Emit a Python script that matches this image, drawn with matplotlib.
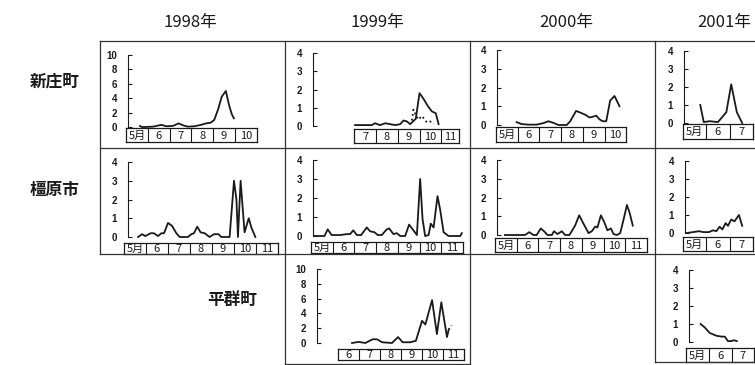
import matplotlib
matplotlib.use("Agg")
import matplotlib.pyplot as plt
from matplotlib.lines import Line2D

plt.rcParams['font.family'] = ['Noto Sans CJK JP', 'DejaVu Sans']

W, H = 755, 365
fig = plt.figure(figsize=(W / 100, H / 100), dpi=100)

years = ['1998年', '1999年', '2000年', '2001年']
towns = ['新庄町', '橿原市', '平群町']

# x = date expressed as month + fraction of month, y = catch per trap
shinjo_1998_x = [5.64, 5.72, 5.86, 6.24, 6.62, 6.85, 7.15, 7.41, 7.65, 7.83, 8.14,
                 8.44, 8.67, 8.89, 9.05, 9.23, 9.39, 9.58, 9.73, 9.85, 9.95]
shinjo_1998_y = [0.15, 0.0, 0.0, 0.05, 0.3, 0.1, 0.15, 0.5, 0.2, 0.05, 0.1,
                 0.3, 0.5, 0.6, 1.0, 2.5, 4.2, 5.0, 3.0, 1.8, 1.2]

shinjo_1999_x = [7.03, 7.49, 7.8, 7.95, 8.18, 8.42, 8.65, 8.88, 9.11, 9.26, 9.42,
                 9.57, 9.83, 10.0, 10.18, 10.38, 10.57, 10.75, 10.88]
shinjo_1999_y = [0.05, 0.05, 0.05, 0.15, 0.05, 0.15, 0.1, 0.05, 0.1, 0.3, 0.25,
                 0.1, 0.4, 1.8, 1.5, 1.1, 0.8, 0.7, 0.1]
shinjo_1999_sub_x = [9.65, 9.72, 9.83, 9.95, 10.11, 10.34, 10.49, 10.65]
shinjo_1999_sub_y = [0.3, 0.9, 0.6, 0.35, 0.55, 0.2, 0.25, 0.1]

shinjo_2000_x = [5.95, 6.18, 6.49, 6.88, 7.18, 7.42, 7.68, 7.88, 8.26, 8.42, 8.69,
                 8.91, 9.11, 9.31, 9.49, 9.62, 9.77, 9.92, 10.08, 10.26, 10.46, 10.69]
shinjo_2000_y = [0.15, 0.05, 0.02, 0.02, 0.1, 0.2, 0.1, 0.0, 0.0, 0.2, 0.75,
                 0.65, 0.55, 0.4, 0.45, 0.5, 0.3, 0.2, 0.2, 1.3, 1.55, 1.0]

shinjo_2001_x = [5.74, 5.89, 6.14, 6.5, 6.86, 7.07, 7.31, 7.54]
shinjo_2001_y = [1.0, 0.05, 0.1, 0.05, 0.6, 2.15, 0.6, 0.0]

kashi_1998_x = [5.64, 5.82, 5.97, 6.21, 6.36, 6.55, 6.7, 6.82, 7.0, 7.18, 7.38,
                7.53, 7.91, 8.06, 8.18, 8.33, 8.48, 8.67, 8.89, 9.09, 9.3, 9.42,
                9.8, 10.0, 10.11, 10.18, 10.3, 10.48, 10.67, 10.79, 10.97]
kashi_1998_y = [0.0, 0.15, 0.05, 0.2, 0.2, 0.05, 0.2, 0.2, 0.75, 0.6, 0.2,
                0.0, 0.0, 0.15, 0.2, 0.55, 0.25, 0.2, 0.0, 0.15, 0.15, 0.0,
                0.0, 3.0, 2.0, 0.0, 3.0, 0.25, 1.0, 0.5, 0.0]

kashi_1999_x = [5.15, 5.62, 5.77, 5.95, 6.34, 6.65, 6.8, 6.95, 7.11, 7.31, 7.57,
                7.72, 7.92, 8.08, 8.26, 8.49, 8.6, 8.8, 8.95, 9.11, 9.34, 9.52,
                9.72, 9.88, 10.03, 10.14, 10.26, 10.42, 10.52, 10.65, 10.83, 10.95,
                11.11, 11.34, 11.88, 11.95]
kashi_1999_y = [0.0, 0.0, 0.35, 0.05, 0.05, 0.1, 0.1, 0.3, 0.05, 0.05, 0.45,
                0.25, 0.2, 0.05, 0.05, 0.35, 0.4, 0.1, 0.15, 0.0, 0.0, 0.6,
                0.3, 0.05, 3.0, 0.9, 0.0, 0.05, 0.65, 0.45, 2.1, 1.4,
                0.2, 0.0, 0.0, 0.15]

kashi_2000_x = [5.46, 6.38, 6.58, 6.77, 6.92, 7.11, 7.26, 7.42, 7.62, 7.72, 7.88,
                8.08, 8.23, 8.43, 8.69, 8.88, 9.08, 9.31, 9.46, 9.62, 9.72, 9.88,
                10.03, 10.18, 10.34, 10.46, 10.62, 10.77, 10.92, 11.08, 11.2, 11.35]
kashi_2000_y = [0.0, 0.0, 0.15, 0.0, 0.0, 0.35, 0.2, 0.0, 0.0, 0.2, 0.05,
                0.2, 0.0, 0.0, 0.5, 1.05, 0.6, 0.1, 0.2, 0.45, 0.4, 1.05,
                0.7, 0.25, 0.35, 0.05, 0.0, 0.1, 0.8, 1.6, 1.2, 0.5]

kashi_2001_x = [5.17, 5.43, 5.69, 5.86, 6.11, 6.29, 6.43, 6.57, 6.69, 6.83, 6.93,
                7.07, 7.21, 7.4, 7.54]
kashi_2001_y = [0.0, 0.05, 0.1, 0.05, 0.05, 0.15, 0.1, 0.35, 0.2, 0.55, 0.4,
                0.75, 0.65, 1.0, 0.4]

heguri_1999_x = [6.67, 6.98, 7.3, 7.65, 7.86, 8.1, 8.57, 8.86, 9.08, 9.44, 9.71,
                 10.0, 10.16, 10.48, 10.71, 10.92, 11.19, 11.27]
heguri_1999_y = [0.0, 0.15, 0.0, 0.5, 0.5, 0.1, 0.0, 0.8, 0.1, 0.1, 0.3,
                 3.0, 2.5, 5.8, 1.2, 5.5, 0.8, 1.8]
heguri_1999_sub_x = [11.27, 11.4]
heguri_1999_sub_y = [1.8, 2.4]

heguri_2001_x = [5.64, 5.83, 6.04, 6.33, 6.55, 6.7, 6.84, 6.99, 7.09, 7.23]
heguri_2001_y = [1.0, 0.8, 0.5, 0.35, 0.3, 0.3, 0.05, 0.05, 0.1, 0.05]

INK = '#1a1a1a'


def px_box(left, top, right, bottom):
    return [left / W, 1 - bottom / H, (right - left) / W, (bottom - top) / H]


def month_label(m):
    return '5月' if m == 5 else str(m)


def panel(x, y, ymax, ystep, spine_px, may1_px, ppm, zero_py, top_py,
          m_first, m_end, strip_top, strip_bot, sub_x=None, sub_y=None):
    xmin = 5 + (spine_px - may1_px) / ppm
    xmax = 12.3
    ax = fig.add_axes(px_box(spine_px, top_py, spine_px + (xmax - xmin) * ppm, zero_py))
    ax.set_xlim(xmin, xmax)
    ax.set_ylim(0, ymax)
    ax.patch.set_visible(False)
    ax.plot(x, y, color=INK, lw=1.3, clip_on=False, solid_joinstyle='round')
    if sub_x is not None:
        ax.plot(sub_x, sub_y, color=INK, lw=1.3, ls=':', clip_on=False)
    for s in ('top', 'right', 'bottom'):
        ax.spines[s].set_visible(False)
    ax.spines['left'].set_linewidth(0.8)
    ax.spines['left'].set_color(INK)
    ax.set_xticks([])
    ax.set_yticks(list(range(0, ymax + 1, ystep)))
    ax.tick_params(axis='y', direction='in', length=3, width=0.8, pad=8,
                   labelsize=7, colors=INK)
    for lab in ax.get_yticklabels():
        lab.set_fontweight('bold')
        lab.set_family(['Liberation Sans', 'DejaVu Sans'])

    # month strip under the plot
    sx = may1_px + (m_first - 5) * ppm
    ex = may1_px + (m_end - 5) * ppm
    sax = fig.add_axes(px_box(sx, strip_top, ex, strip_bot))
    sax.set_xlim(m_first, m_end)
    sax.set_ylim(0, 1)
    sax.set_xticks([])
    sax.set_yticks([])
    for sp in sax.spines.values():
        sp.set_linewidth(0.9)
        sp.set_color(INK)
    m = m_first
    while m < m_end:
        if m > m_first:
            sax.axvline(m, color=INK, lw=0.8)
        end = min(m + 1, m_end)
        sax.text((m + end) / 2, 0.45, month_label(m), ha='center', va='center',
                 fontsize=8, color=INK)
        m += 1


# row 1: 新庄町
panel(shinjo_1998_x, shinjo_1998_y, 10, 2, 128, 126, 21.8, 127, 55, 5, 11, 128, 142)
panel(shinjo_1999_x, shinjo_1999_y, 4, 1, 313, 311, 21.7, 126, 53, 7, 11.8, 129, 143,
      shinjo_1999_sub_x, shinjo_1999_sub_y)
panel(shinjo_2000_x, shinjo_2000_y, 4, 1, 497, 496, 21.7, 125, 50, 5, 11, 127, 142)
panel(shinjo_2001_x, shinjo_2001_y, 4, 1, 684, 683, 23.3, 123, 51, 5, 8, 124, 139)

# row 2: 橿原市
panel(kashi_1998_x, kashi_1998_y, 4, 1, 128, 124, 22.0, 237, 162, 5, 12, 243, 254)
panel(kashi_1999_x, kashi_1999_y, 4, 1, 313, 311, 21.7, 236, 160, 5, 12, 242, 253)
panel(kashi_2000_x, kashi_2000_y, 4, 1, 497, 495, 21.7, 235, 160, 5, 12, 238, 252)
panel(kashi_2001_x, kashi_2001_y, 4, 1, 685, 683, 23.3, 233, 161, 5, 8, 237, 251)

# row 3: 平群町
panel(heguri_1999_x, heguri_1999_y, 10, 2, 317, 317, 21.0, 343, 269, 6, 12, 349, 360,
      heguri_1999_sub_x, heguri_1999_sub_y)
panel(heguri_2001_x, heguri_2001_y, 4, 1, 689, 686, 22.8, 342, 270, 5, 8, 348, 362)

# table frame
frame = [
    ((100, 755), (41, 41)),
    ((100, 755), (148, 148)),
    ((100, 755), (254, 254)),
    ((285, 470), (364, 364)),
    ((655, 755), (362, 362)),
    ((100, 100), (41, 254)),
    ((285, 285), (41, 364)),
    ((470, 470), (41, 364)),
    ((655, 655), (41, 362)),
]
for (xa, xb), (ya, yb) in frame:
    fig.add_artist(Line2D([xa / W, xb / W], [1 - ya / H, 1 - yb / H],
                          color='#333333', lw=0.9))

# column and row headings
for cx, yr in zip([190, 377, 566, 724], years):
    fig.text(cx / W, 1 - 22 / H, yr, ha='center', va='center', fontsize=12, color=INK)
for (cx, cy), town in zip([(55, 82), (55, 190), (232, 300)], towns):
    fig.text(cx / W, 1 - cy / H, town, ha='center', va='center', fontsize=12,
             fontweight='bold', color=INK)

fig.savefig('out.png', dpi=100)
